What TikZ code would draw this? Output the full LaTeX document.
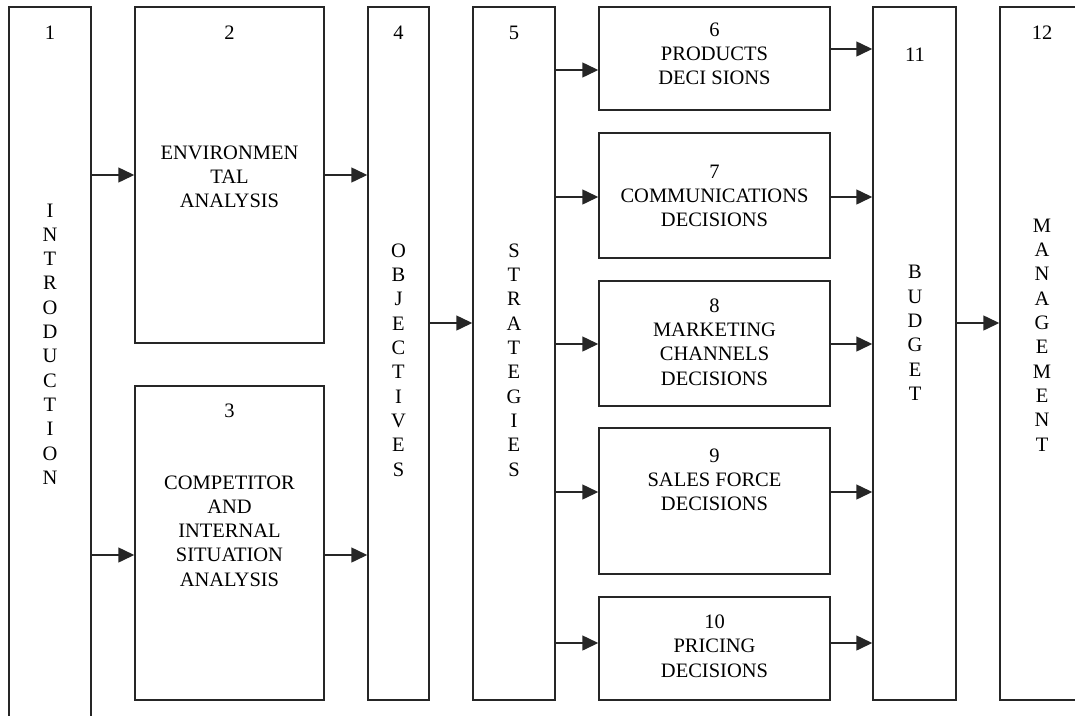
\documentclass[tikz,border=0pt]{standalone}
\usepackage{fontspec}
\setmainfont{Liberation Serif}
\usetikzlibrary{arrows.meta}
\begin{document}
\begin{tikzpicture}[x=1pt,y=-1pt,
  box/.style={draw=black!85,line width=1.5pt,inner sep=0pt},
  lbl/.style={text=black,font=\fontsize{20.5}{24.3}\selectfont,align=center,inner sep=0pt},
  arr/.style={line width=1.5pt,draw=black!85,-{Triangle[length=16pt,width=15pt]}}]
\useasboundingbox (0,0) rectangle (1075,715);
\clip (0,0) rectangle (1075,715);
% boxes
\node[box,minimum width=82pt,minimum height=723pt] (b1) at (50,368.5) {};
\node[box,minimum width=189pt,minimum height=336pt] (b2) at (229.5,175) {};
\node[box,minimum width=189pt,minimum height=314pt] (b3) at (229.5,543) {};
\node[box,minimum width=61pt,minimum height=693pt] (b4) at (398.5,353.5) {};
\node[box,minimum width=82pt,minimum height=693pt] (b5) at (514,353.5) {};
\node[box,minimum width=231pt,minimum height=103pt] (b6) at (714.5,58.5) {};
\node[box,minimum width=231pt,minimum height=125pt] (b7) at (714.5,195.5) {};
\node[box,minimum width=231pt,minimum height=125pt] (b8) at (714.5,343.5) {};
\node[box,minimum width=231pt,minimum height=146pt] (b9) at (714.5,501) {};
\node[box,minimum width=231pt,minimum height=103pt] (b10) at (714.5,648.5) {};
\node[box,minimum width=83pt,minimum height=693pt] (b11) at (914.5,353.5) {};
\node[box,minimum width=85pt,minimum height=693pt] (b12) at (1042.5,353.5) {};
% labels
\node[lbl] (n1) at (50,33) {1};
\node[lbl] (t1) at (50,344) {I\\N\\T\\R\\O\\D\\U\\C\\T\\I\\O\\N};
\node[lbl] (n2) at (229.5,33) {2};
\node[lbl] (t2) at (229.5,177) {ENVIRONMEN\\TAL\\ANALYSIS};
\node[lbl] (n3) at (229.5,411) {3};
\node[lbl] (t3) at (229.5,531) {COMPETITOR\\AND\\INTERNAL\\SITUATION\\ANALYSIS};
\node[lbl] (n4) at (398.5,33) {4};
\node[lbl] (t4) at (398.5,360) {O\\B\\J\\E\\C\\T\\I\\V\\E\\S};
\node[lbl] (n5) at (514,33) {5};
\node[lbl] (t5) at (514,360) {S\\T\\R\\A\\T\\E\\G\\I\\E\\S};
\node[lbl] (t6) at (714.5,54) {6\\PRODUCTS\\DECI SIONS};
\node[lbl] (t7) at (714.5,196) {7\\COMMUNICATIONS\\DECISIONS};
\node[lbl] (t8) at (714.5,342) {8\\MARKETING\\CHANNELS\\DECISIONS};
\node[lbl] (t9) at (714.5,480) {9\\SALES FORCE\\DECISIONS};
\node[lbl] (t10) at (714.5,646) {10\\PRICING\\DECISIONS};
\node[lbl] (n11) at (915,55) {11};
\node[lbl] (t11) at (915,333) {B\\U\\D\\G\\E\\T};
\node[lbl] (n12) at (1042,33) {12};
\node[lbl] (t12) at (1042,335) {M\\A\\N\\A\\G\\E\\M\\E\\N\\T};
% arrows
\draw[arr] (b1.east |- 0,175) -- (b2.west |- 0,175);
\draw[arr] (b1.east |- 0,555) -- (b3.west |- 0,555);
\draw[arr] (b2.east |- 0,175) -- (b4.west |- 0,175);
\draw[arr] (b3.east |- 0,555) -- (b4.west |- 0,555);
\draw[arr] (b4.east |- 0,323) -- (b5.west |- 0,323);
\draw[arr] (b5.east |- 0,70) -- (b6.west |- 0,70);
\draw[arr] (b5.east |- 0,197) -- (b7.west |- 0,197);
\draw[arr] (b5.east |- 0,344) -- (b8.west |- 0,344);
\draw[arr] (b5.east |- 0,492) -- (b9.west |- 0,492);
\draw[arr] (b5.east |- 0,643) -- (b10.west |- 0,643);
\draw[arr] (b6.east |- 0,49) -- (b11.west |- 0,49);
\draw[arr] (b7.east |- 0,197) -- (b11.west |- 0,197);
\draw[arr] (b8.east |- 0,344) -- (b11.west |- 0,344);
\draw[arr] (b9.east |- 0,492) -- (b11.west |- 0,492);
\draw[arr] (b10.east |- 0,643) -- (b11.west |- 0,643);
\draw[arr] (b11.east |- 0,323) -- (b12.west |- 0,323);
\end{tikzpicture}
\end{document}
